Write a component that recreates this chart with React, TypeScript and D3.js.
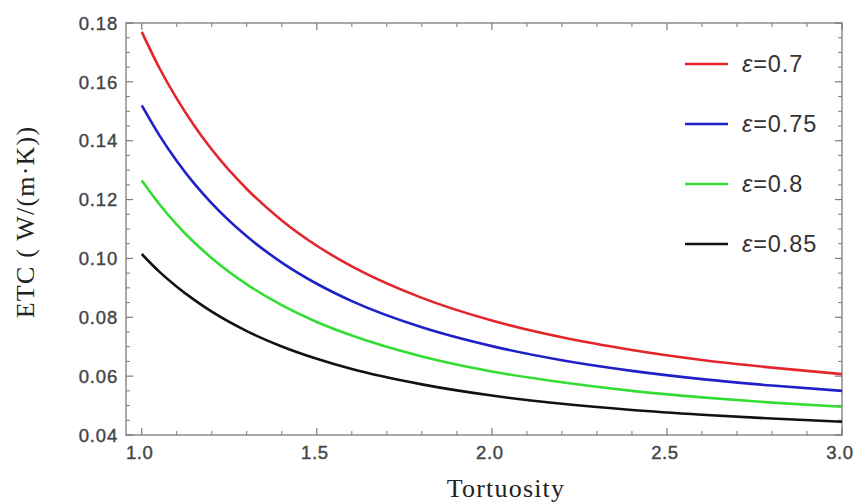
import * as d3 from 'd3';
import React from 'react';

// tortuosity sample points
const tortuosity = [1.0, 1.05, 1.1, 1.15, 1.2, 1.3, 1.4, 1.5, 1.6, 1.8, 2.0, 2.2, 2.4, 2.6, 2.8, 3.0];

const etc070 = [0.177, 0.1648, 0.1543, 0.1451, 0.137, 0.1236, 0.1129, 0.1043, 0.0973, 0.0866, 0.0789, 0.0732, 0.0689, 0.0655, 0.0629, 0.0607];
const etc075 = [0.152, 0.1419, 0.1331, 0.1254, 0.1187, 0.1075, 0.0986, 0.0914, 0.0855, 0.0766, 0.0702, 0.0654, 0.0618, 0.059, 0.0568, 0.055];
const etc080 = [0.1265, 0.1185, 0.1115, 0.1054, 0.1001, 0.0912, 0.0841, 0.0784, 0.0738, 0.0667, 0.0616, 0.0579, 0.055, 0.0528, 0.051, 0.0496];
const etc085 = [0.1015, 0.0955, 0.0904, 0.0859, 0.0819, 0.0753, 0.0701, 0.0659, 0.0624, 0.0572, 0.0534, 0.0506, 0.0485, 0.0469, 0.0456, 0.0445];

const seriesLabels = ['0.7', '0.75', '0.8', '0.85'];
const seriesColors = ['#e3262b', '#2020c8', '#33dd33', '#111111'];

const xTicks = [1.0, 1.5, 2.0, 2.5, 3.0];
const yTicks = [0.04, 0.06, 0.08, 0.1, 0.12, 0.14, 0.16, 0.18];

const W = 858;
const H = 504;
const left = 126, right = 842, top = 23, bottom = 435;

export default function App() {
  const x = d3.scaleLinear().domain([0.955, 3.0]).range([left, right]);
  const y = d3.scaleLinear().domain([0.04, 0.18]).range([bottom, top]);

  const allSeries = [etc070, etc075, etc080, etc085];
  const line = d3.line<[number, number]>()
    .x(d => x(d[0]))
    .y(d => y(d[1]))
    .curve(d3.curveMonotoneX);

  const xMinor = d3.range(10, 31).map(v => v / 10).filter(v => !xTicks.some(t => Math.abs(t - v) < 1e-6));
  const yMinor = d3.range(8, 37).map(v => v * 0.005).filter(v => !yTicks.some(t => Math.abs(t - v) < 1e-6));

  const axisColor = '#7a7a7a';
  const labelColor = '#454545';

  return (
    <svg width={W} height={H} style={{ position: 'absolute', left: 0, top: 0, background: '#fff' }}>
      {/* frame */}
      <rect x={left} y={top} width={right - left} height={bottom - top} fill="none" stroke={axisColor} strokeWidth={1.3} />

      {/* x ticks, bottom and top */}
      {xTicks.map(t => (
        <g key={'xt' + t}>
          <line x1={x(t)} x2={x(t)} y1={bottom} y2={bottom - 7} stroke={axisColor} strokeWidth={1.2} />
          <line x1={x(t)} x2={x(t)} y1={top} y2={top + 7} stroke={axisColor} strokeWidth={1.2} />
          <text x={x(t) - 2} y={459} textAnchor="middle" fontFamily="Liberation Sans, Arial" fontSize={18.5}
            fill={labelColor} stroke={labelColor} strokeWidth={0.4} letterSpacing={0.6}>{d3.format('.1f')(t)}</text>
        </g>
      ))}
      {xMinor.map(t => (
        <g key={'xm' + t}>
          <line x1={x(t)} x2={x(t)} y1={bottom} y2={bottom - 4} stroke={axisColor} strokeWidth={1} />
          <line x1={x(t)} x2={x(t)} y1={top} y2={top + 4} stroke={axisColor} strokeWidth={1} />
        </g>
      ))}

      {/* y ticks, left and right */}
      {yTicks.map(t => (
        <g key={'yt' + t}>
          <line x1={left} x2={left + 7} y1={y(t)} y2={y(t)} stroke={axisColor} strokeWidth={1.2} />
          <line x1={right} x2={right - 7} y1={y(t)} y2={y(t)} stroke={axisColor} strokeWidth={1.2} />
          <text x={118} y={y(t)} dy="0.36em" textAnchor="end" fontFamily="Liberation Sans, Arial" fontSize={18.5}
            fill={labelColor} stroke={labelColor} strokeWidth={0.4} letterSpacing={0.8}>{d3.format('.2f')(t)}</text>
        </g>
      ))}
      {yMinor.map(t => (
        <g key={'ym' + t}>
          <line x1={left} x2={left + 4} y1={y(t)} y2={y(t)} stroke={axisColor} strokeWidth={1} />
          <line x1={right} x2={right - 4} y1={y(t)} y2={y(t)} stroke={axisColor} strokeWidth={1} />
        </g>
      ))}

      {/* curves */}
      {allSeries.map((s, i) => (
        <path key={'s' + i}
          d={line(tortuosity.map((t, j) => [t, s[j]] as [number, number])) || ''}
          fill="none" stroke={seriesColors[i]} strokeWidth={2.6} />
      ))}

      {/* legend */}
      {seriesLabels.map((lab, i) => (
        <g key={'lg' + i} transform={`translate(0, ${64 + i * 60})`}>
          <line x1={685} x2={728} y1={0} y2={0} stroke={seriesColors[i]} strokeWidth={2.6} />
          <text x={742} y={0} dy="0.36em" fontFamily="Liberation Sans, Arial" fontSize={23.5} fill="#333" letterSpacing={0.9}>
            <tspan fontStyle="italic">ε</tspan>={lab}
          </text>
        </g>
      ))}

      {/* axis titles */}
      <text x={506} y={497} textAnchor="middle" fontFamily="Liberation Serif, Times New Roman" fontSize={26}
        letterSpacing={1.2} fill="#222">Tortuosity</text>
      <text transform={`translate(34, 222) rotate(-90)`} textAnchor="middle" fontFamily="Liberation Serif, Times New Roman"
        fontSize={26} letterSpacing={1.2} fill="#222">ETC ( W/(m·K))</text>
    </svg>
  );
}
